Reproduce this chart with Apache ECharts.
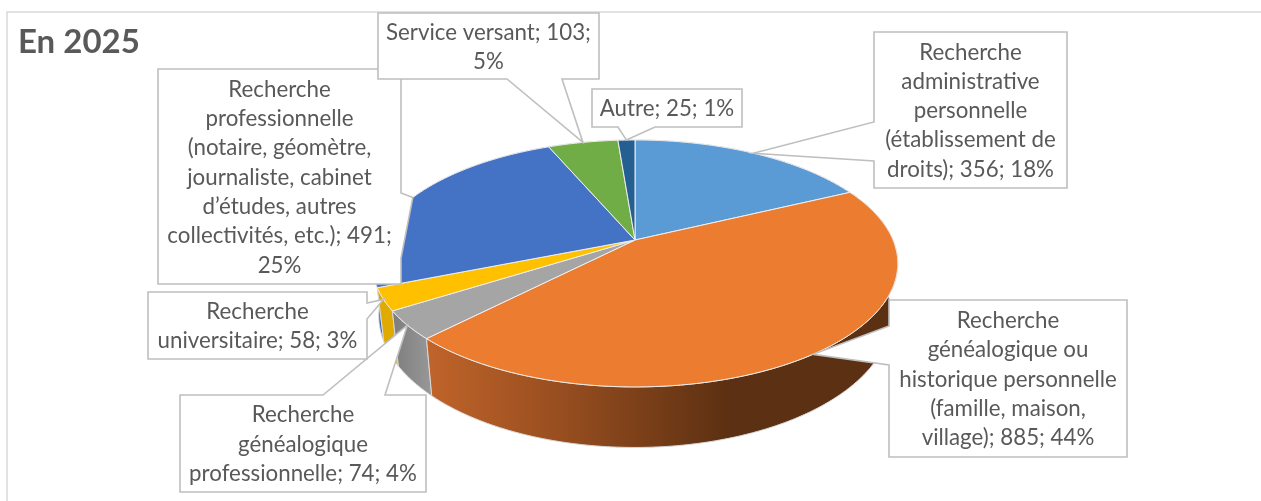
<!DOCTYPE html>
<html>
<head>
<meta charset="utf-8">
<title>En 2025</title>
<script src="https://cdn.jsdelivr.net/npm/echarts@6/dist/echarts.min.js"></script>
<style>
  html, body { margin: 0; padding: 0; background: #fff; }
  #chart { width: 1261px; height: 501px; }
</style>
</head>
<body>
<div id="chart"></div>
<script>
const categories = [
  'Recherche administrative personnelle (établissement de droits)',
  'Recherche généalogique ou historique personnelle (famille, maison, village)',
  'Recherche généalogique professionnelle',
  'Recherche universitaire',
  'Recherche professionnelle (notaire, géomètre, journaliste, cabinet d’études, autres collectivités, etc.)',
  'Service versant',
  'Autre'
];
const values = [356, 885, 74, 58, 491, 103, 25];
const colors = ['#5b9bd5', '#eb7c30', '#a5a5a5', '#ffc000', '#4472c4', '#70ad47', '#255e91'];
// how the callout text wraps in the original
const labelLines = [
  ['Recherche', 'administrative', 'personnelle', '(établissement de', 'droits); 356; 18%'],
  ['Recherche', 'généalogique ou', 'historique personnelle', '(famille, maison,', 'village); 885; 44%'],
  ['Recherche', 'généalogique', 'professionnelle; 74; 4%'],
  ['Recherche', 'universitaire; 58; 3%'],
  ['Recherche', 'professionnelle', '(notaire, géomètre,', 'journaliste, cabinet', 'd’études, autres', 'collectivités, etc.); 491;', '25%'],
  ['Service versant; 103;', '5%'],
  ['Autre; 25; 1%']
];

// callout boxes, the wedge opens on one side between a and b
const labelBoxes = [
  { x: 874, y: 32, x2: 1067, y2: 188, side: 'left', a: 122, b: 161 },
  { x: 889, y: 300, x2: 1127, y2: 457, side: 'left', a: 326, b: 365 },
  { x: 180, y: 395, x2: 426, y2: 492, side: 'top', a: 323, b: 385 },
  { x: 148, y: 292, x2: 367, y2: 359, side: 'right', a: 303, b: 319 },
  { x: 158, y: 69, x2: 401, y2: 284, side: 'right', a: 193, b: 258 },
  { x: 378, y: 13, x2: 599, y2: 79, side: 'bottom', a: 507, b: 562 },
  { x: 592, y: 89, x2: 742, y2: 127, side: 'bottom', a: 618, b: 655 }
];

// perspective of the pie disc
const apexX = 635, apexY = 240, radX = 258, radY = 119, persp = 0.19;
// lower disc of the extrusion
const lowerX = 0.975, lowerY = 1.069, lowerShift = 50.4;

const total = values.reduce((s, v) => s + v, 0);
const slices = [];
let acc = 0;
values.forEach(v => {
  slices.push({ start: acc / total * 360, end: (acc + v) / total * 360 });
  acc += v;
});

function project(deg) {
  const rad = deg * Math.PI / 180;
  const px = Math.sin(rad), py = -Math.cos(rad);
  const d = 1 - persp * py;
  return [radX * px / d, radY * py / d];
}
function topPoint(deg) {
  const p = project(deg);
  return [apexX + p[0], apexY + p[1]];
}
function lowerPoint(deg) {
  const p = project(deg);
  return [apexX + p[0] * lowerX, apexY + lowerShift + p[1] * lowerY];
}
function arc(fn, from, to) {
  const n = Math.max(2, Math.ceil((to - from) * 2));
  const pts = [];
  for (let i = 0; i <= n; i++) pts.push(fn(from + (to - from) * i / n));
  return pts;
}

const wallFills = [
  '#3f74a8',
  new echarts.graphic.LinearGradient(0, 0, 1, 0, [
    { offset: 0, color: '#c0642a' },
    { offset: 0.27, color: '#9a4f20' },
    { offset: 0.45, color: '#7c4019' },
    { offset: 0.64, color: '#5c3012' },
    { offset: 1, color: '#5c3012' }
  ]),
  new echarts.graphic.LinearGradient(0, 0, 1, 0, [
    { offset: 0, color: '#7d7d7d' },
    { offset: 1, color: '#989898' }
  ]),
  '#e0aa00',
  '#3a66b0',
  '#5d913a',
  '#1d4a72'
];
const wallOrder = [0, 6, 5, 4, 3, 2, 1];

function renderWall(params) {
  const i = params.dataIndex;
  const s = slices[i];
  const pts = arc(topPoint, s.start, s.end).concat(arc(lowerPoint, s.start, s.end).reverse());
  return {
    type: 'polygon',
    z2: wallOrder.indexOf(i),
    shape: { points: pts },
    style: { fill: wallFills[i], stroke: '#d9d9d9', lineWidth: 1 }
  };
}

function renderTop(params) {
  const s = slices[params.dataIndex];
  const pts = [[apexX, apexY]].concat(arc(topPoint, s.start, s.end));
  return {
    type: 'polygon',
    shape: { points: pts },
    style: { fill: colors[params.dataIndex], stroke: '#efefef', lineWidth: 1 }
  };
}

function calloutPoints(box, tip) {
  const { x, y, x2, y2, a, b } = box;
  if (box.side === 'left') return [[x, y], [x2, y], [x2, y2], [x, y2], [x, b], tip, [x, a]];
  if (box.side === 'right') return [[x, y], [x2, y], [x2, a], tip, [x2, b], [x2, y2], [x, y2]];
  if (box.side === 'top') return [[x, y], [a, y], tip, [b, y], [x2, y], [x2, y2], [x, y2]];
  return [[x, y], [x2, y], [x2, y2], [b, y2], tip, [a, y2], [x, y2]];
}

function renderCallout(params) {
  const i = params.dataIndex;
  const s = slices[i];
  const box = labelBoxes[i];
  const tip = topPoint((s.start + s.end) / 2);
  return {
    type: 'group',
    children: [
      {
        type: 'polygon',
        z2: i * 2,
        shape: { points: calloutPoints(box, tip) },
        style: { fill: '#fff', stroke: '#bfbfbf', lineWidth: 1.6 }
      },
      {
        type: 'text',
        z2: i * 2 + 1,
        style: {
          x: (box.x + box.x2) / 2,
          y: (box.y + box.y2) / 2 + 1,
          text: labelLines[i].join('\n'),
          align: 'center',
          verticalAlign: 'middle',
          font: '22.3px Lato',
          lineHeight: 29.3,
          fill: '#595959'
        }
      }
    ]
  };
}

const chart = echarts.init(document.getElementById('chart'));
const seriesData = values.map((v, i) => ({ name: categories[i], value: v }));
chart.setOption({
  animation: false,
  backgroundColor: '#fff',
  title: {
    text: 'En 2025',
    left: 13,
    top: 21,
    textStyle: { fontFamily: 'Lato', fontSize: 33, fontWeight: 'bold', color: '#595959' }
  },
  graphic: [
    { type: 'polyline', silent: true, shape: { points: [[7, 501], [7, 12], [1261, 12]] }, style: { fill: 'none', stroke: '#d9d9d9', lineWidth: 1.5 } }
  ],
  series: [
    { type: 'custom', coordinateSystem: 'none', renderItem: renderWall, data: seriesData, z: 1, silent: true },
    { type: 'custom', coordinateSystem: 'none', renderItem: renderTop, data: seriesData, z: 2, silent: true },
    { type: 'custom', coordinateSystem: 'none', renderItem: renderCallout, data: seriesData, z: 3, silent: true }
  ]
});
</script>
</body>
</html>
